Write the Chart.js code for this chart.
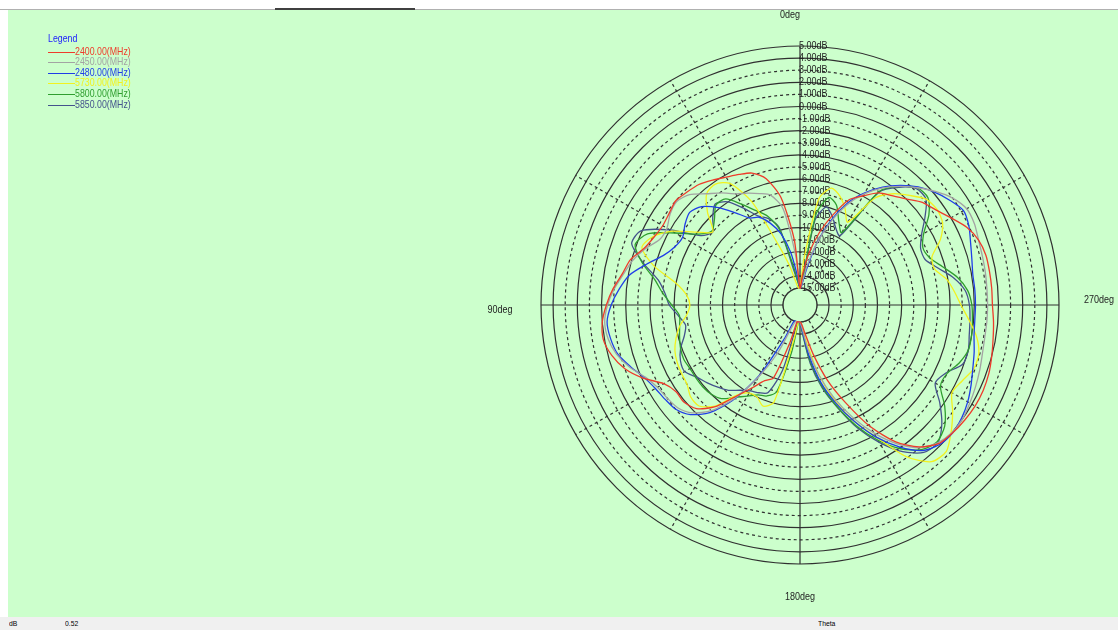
<!DOCTYPE html>
<html>
<head>
<meta charset="utf-8">
<script src="https://cdn.jsdelivr.net/npm/chart.js@4.4.1/dist/chart.umd.min.js"></script>
<style>
  html, body { margin: 0; padding: 0; }
  body { width: 1118px; height: 630px; overflow: hidden; position: relative; background: #fff;
         font-family: "Liberation Sans", Arial, sans-serif; }
  #panel { position: absolute; left: 8px; top: 10px; width: 1110px; height: 607px; background: #ccffcc; }
  #topline { position: absolute; left: 0; top: 9px; width: 1118px; height: 1px; background: #b0b0b0; }
  #toptab { position: absolute; left: 275px; top: 8px; width: 140px; height: 2px; background: #404040; }
  #status { position: absolute; left: 0; top: 617px; width: 1118px; height: 13px; background: #f0f0f0;
            font-size: 8px; color: #000; }
  #status span { position: absolute; top: 2px; transform: scaleX(0.85); transform-origin: left; }
  #wrap { position: absolute; left: 0; top: 0; width: 1118px; height: 630px; }
  #legend { position: absolute; left: 0; top: 0; font-size: 11px; }
  #legend div { position: absolute; white-space: nowrap; }
  #legend .txt { transform: scaleX(0.8); transform-origin: left; }
</style>
</head>
<body>
<div id="panel"></div>
<div id="topline"></div>
<div id="toptab"></div>
<div id="status"><span style="left:9px">dB</span><span style="left:65px">0.52</span><span style="left:818px">Theta</span></div>
<div id="wrap"><canvas id="polar"></canvas></div>
<div id="legend"></div>
<script>
// angle in degrees, measured from the top, counter-clockwise
var thetaDeg = [0, 5, 10, 15, 20, 25, 30, 35, 40, 45, 50, 55, 60, 65, 70, 75, 80, 85,
	90, 95, 100, 105, 110, 115, 120, 125, 130, 135, 140, 145, 150, 155, 160, 165, 170, 175,
	180, 185, 190, 195, 200, 205, 210, 215, 220, 225, 230, 235, 240, 245, 250, 255, 260, 265,
	270, 275, 280, 285, 290, 295, 300, 305, 310, 315, 320, 325, 330, 335, 340, 345, 350, 355]

var dbTicks = [-15, -14, -13, -12, -11, -10, -9, -8, -7, -6, -5, -4, -3, -2, -1, 0, 1, 2, 3, 4, 5]
var angleTicks = [0, 90, 180, 270]

var freqLabels = ['2400.00(MHz)', '2450.00(MHz)', '2480.00(MHz)', '5730.00(MHz)', '5800.00(MHz)', '5850.00(MHz)']

var s2400 = [-15, -11.0, -7.4, -5.6, -4.8, -4.5, -4.2, -3.8, -3.4, -3.2, -3.0, -3.2, -3.3, -3.1, -2.7, -1.9, -1.5, -0.9,
	-0.4, 0.0, 0.1, -0.3, -1.0, -2.1, -3.4, -3.9, -3.9, -4.3, -5.4, -7.2, -8.5, -9.5, -10.0, -13.2, -15, -15,
	-15, -14.8, -14.0, -12.2, -9.8, -7.5, -4.8, -2.6, -1.1, -0.2, 0.05, 0.2, 0.3, 0.3, 0.2, 0.0, -0.2, -0.35,
	-0.5, -0.5, -0.5, -0.5, -0.7, -1.2, -2.0, -2.7, -3.2, -4.0, -4.6, -5.1, -6.0, -6.8, -8.5, -10.2, -12.0, -13.8]
var s2450 = [-15, -12.3, -8.3, -7.0, -6.6, -6.2, -5.8, -5.1, -4.4, -3.5, -3.1, -3.3, -3.7, -3.6, -2.8, -2.1, -1.6, -1.0,
	-0.5, -0.2, -0.3, -0.7, -1.4, -2.3, -2.8, -3.0, -3.2, -3.8, -5.0, -7.0, -9.5, -12.0, -14.5, -15, -15, -15,
	-15, -14.5, -12.8, -10.5, -8.3, -6.2, -4.2, -2.4, -1.0, -0.3, 0.0, 0.0, -0.2, -0.4, -0.6, -0.8, -0.9, -0.9,
	-0.9, -0.9, -0.85, -0.8, -0.7, -0.5, -0.5, -1.0, -1.8, -2.7, -3.6, -4.6, -5.8, -7.3, -9.2, -11.2, -13.2, -14.6]
var s2480 = [-15, -14.0, -12.0, -10.3, -9.2, -8.4, -8.1, -7.1, -5.9, -4.9, -4.5, -4.8, -5.2, -5.0, -4.4, -3.3, -2.1, -1.4,
	-0.8, -0.4, -0.5, -0.8, -1.5, -2.2, -2.6, -2.8, -3.0, -3.6, -4.8, -6.9, -9.7, -13.3, -15, -15, -15, -15,
	-15, -14.3, -12.2, -9.8, -7.8, -5.8, -3.8, -2.1, -0.7, -0.1, 0.05, -0.1, -0.4, -0.8, -1.2, -1.5, -1.8, -1.9,
	-1.9, -1.9, -1.9, -1.7, -1.4, -1.0, -0.8, -1.3, -1.9, -2.6, -3.5, -4.5, -5.7, -7.1, -9.0, -11.2, -13.5, -14.7]
var s5730 = [-15, -15, -14.5, -13.0, -11.0, -7.0, -4.8, -4.2, -4.4, -5.6, -7.0, -5.9, -4.2, -3.0, -2.5, -3.9, -6.0, -7.0,
	-7.3, -7.0, -6.3, -5.8, -5.4, -5.2, -5.1, -5.0, -4.6, -4.6, -5.5, -7.3, -8.0, -8.0, -7.5, -8.1, -13.5, -15,
	-15, -14.6, -13.3, -10.5, -8.0, -5.8, -3.8, -1.1, 0.5, 0.7, -0.1, -1.0, -1.9, -1.6, -1.1, -1.1, -1.6, -2.4,
	-3.1, -3.6, -4.1, -4.9, -4.8, -3.6, -2.8, -2.6, -2.8, -3.6, -4.4, -5.6, -8.5, -7.6, -6.8, -6.4, -7.5, -12.5]
var s5800 = [-15, -14.5, -13.0, -10.0, -8.6, -7.8, -6.8, -5.7, -5.6, -6.4, -6.9, -6.2, -4.5, -2.5, -1.9, -2.9, -4.2, -5.0,
	-5.8, -6.4, -6.3, -6.1, -5.9, -5.8, -5.9, -5.9, -5.9, -6.0, -6.3, -7.1, -7.7, -8.2, -8.4, -9.0, -12.5, -15,
	-15, -14.2, -11.8, -9.5, -7.5, -5.4, -3.5, -1.9, -0.8, -0.4, -0.8, -1.8, -3.0, -3.0, -2.4, -2.0, -2.0, -2.1,
	-2.2, -2.5, -3.2, -4.2, -5.0, -5.2, -4.6, -3.4, -2.6, -2.7, -3.6, -4.9, -9.5, -8.8, -7.6, -7.2, -8.8, -14.5]
var s5850 = [-15, -14.5, -13.5, -9.8, -8.8, -8.3, -7.2, -6.0, -5.5, -6.2, -7.0, -6.4, -4.0, -1.9, -1.6, -3.0, -4.5, -5.2,
	-5.6, -6.3, -6.8, -6.5, -5.9, -5.5, -5.4, -6.0, -6.4, -6.8, -7.2, -7.8, -8.2, -8.4, -8.7, -10.8, -14.5, -15,
	-15, -14.0, -11.5, -9.3, -7.4, -5.2, -3.3, -1.6, -0.5, -0.3, -1.1, -2.3, -3.5, -3.1, -2.1, -2.0, -2.2, -2.3,
	-2.4, -2.7, -3.5, -4.6, -5.4, -5.4, -4.8, -3.8, -2.8, -2.8, -3.7, -5.0, -9.8, -9.4, -8.6, -8.0, -9.3, -14.8]

var seriesList = [s2400, s2450, s2480, s5730, s5800, s5850]
var seriesColors = ['#ee3b2b', '#a3a3a3', '#1f3de8', '#f2f21e', '#2f9e2f', '#44528c']

var bg = '#ccffcc'
var gridColor = '#303030'
var labelFont = '11px "Liberation Sans", Arial, sans-serif'

// the radar goes clockwise, the plot goes counter-clockwise: walk the angles backwards
function ccw(arr) {
	return arr.map(function (v, i) { return arr[(arr.length - i) % arr.length] })
}

function buildLegend() {
	var box = document.getElementById('legend')
	var html = '<div class="txt" style="left:48px;top:32px;color:#1a1aff">Legend</div>'
	freqLabels.forEach(function (name, i) {
		var y = 51.5 + i * 10.6
		html += '<div style="left:48px;top:' + Math.round(y) + 'px;width:27px;height:1px;background:' + seriesColors[i] + '"></div>'
		html += '<div class="txt" style="left:75px;top:' + Math.round(y - 7) + 'px;color:' + seriesColors[i] + '">' + name + '</div>'
	})
	box.innerHTML = html
}

// narrow text: squeeze a normal face horizontally
function narrowText(ctx, text, x, y, align) {
	var w = ctx.measureText(text).width * 0.82
	var left = align === 'center' ? x - w / 2 : x
	ctx.save()
	ctx.translate(left, y)
	ctx.scale(0.82, 1)
	ctx.textAlign = 'left'
	ctx.fillText(text, 0, 0)
	ctx.restore()
}

var polarDecor = {
	id: 'polarDecor',
	beforeDatasetsDraw: function (chart) {
		var r = chart.scales.r
		var ctx = chart.ctx
		ctx.save()
		var r0 = r.getDistanceFromCenterForValue(dbTicks[0])
		ctx.beginPath()
		ctx.arc(r.xCenter, r.yCenter, r0, 0, Math.PI * 2)
		ctx.fillStyle = bg
		ctx.fill()
		ctx.strokeStyle = gridColor
		ctx.lineWidth = 1.2
		ctx.setLineDash([])
		ctx.stroke()

		ctx.font = labelFont
		ctx.fillStyle = '#222'
		ctx.textBaseline = 'middle'
		dbTicks.forEach(function (v) {
			var d = r.getDistanceFromCenterForValue(v)
			narrowText(ctx, v.toFixed(2) + 'dB', r.xCenter - 1, r.yCenter - d, 'left')
		})

		// angle captions just outside the outer ring
		var nudge = { 0: [-10, 0, 31], 90: [0, 5, 41], 180: [0, 0, 33], 270: [0, -5, 40] }
		angleTicks.forEach(function (t) {
			var idx = (thetaDeg.length - thetaDeg.indexOf(t)) % thetaDeg.length
			var n = nudge[t]
			var p = r.getPointPosition(idx, r.drawingArea + n[2])
			narrowText(ctx, t + 'deg', p.x + n[0], p.y + n[1], 'center')
		})
		ctx.restore()
	}
}

function initPolar(id) {
	var chart = new Chart(document.getElementById(id), {
		type: 'radar',
		data: {
			labels: ccw(thetaDeg),
			datasets: seriesList.map(function (s, i) {
				return {
					label: freqLabels[i],
					data: ccw(s),
					borderColor: seriesColors[i],
					backgroundColor: seriesColors[i],
					fill: false
				}
			})
		},
		options: {
			responsive: true,
			maintainAspectRatio: false,
			animation: false,
			layout: { padding: { left: 541, right: 59, top: 46, bottom: 66 } },
			plugins: { legend: { display: false }, tooltip: { enabled: false } },
			elements: {
				point: { radius: 0 },
				line: { borderWidth: 1.3, tension: 0.25 }
			},
			scales: {
				r: {
					min: -16.4,
					max: 5,
					startAngle: 0,
					afterBuildTicks: function (axis) {
						axis.ticks = dbTicks.map(function (v) { return { value: v } })
					},
					ticks: { display: false },
					pointLabels: { display: false },
					grid: { circular: true, color: gridColor, lineWidth: 1.2 },
					border: {
						dash: function (c) {
							var v = c.tick ? c.tick.value : 0
							return (v === 5 || v === -15 || v % 2 === 0) ? [] : [3, 3]
						}
					},
					angleLines: {
						color: gridColor,
						lineWidth: function (c) { return c.index % 6 === 0 ? 1.2 : 0 },
						borderDash: function (c) { return c.index % 18 === 0 ? [] : [3, 3] }
					}
				}
			}
		},
		plugins: [polarDecor]
	})
	return chart
}

buildLegend()
initPolar('polar')
</script>
</body>
</html>
